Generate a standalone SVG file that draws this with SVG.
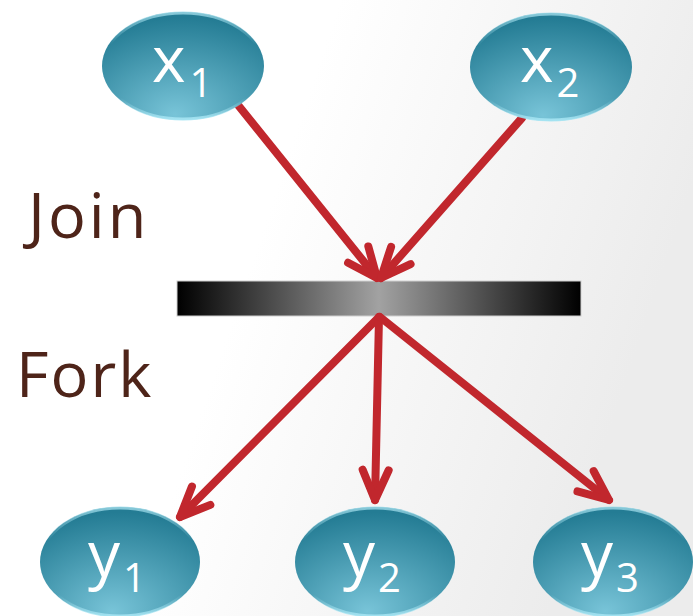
<svg xmlns="http://www.w3.org/2000/svg" width="693" height="616" viewBox="0 0 693 616">
<defs>
<linearGradient id="bg" x1="0" y1="0" x2="1" y2="0.3">
<stop offset="0.45" stop-color="#ffffff"/>
<stop offset="1" stop-color="#ececec"/>
</linearGradient>
<linearGradient id="bar" x1="0" y1="0" x2="1" y2="0">
<stop offset="0" stop-color="#000"/>
<stop offset="0.5" stop-color="#a2a2a2"/>
<stop offset="1" stop-color="#000"/>
</linearGradient>
<radialGradient id="node" cx="0.5" cy="0.85" r="0.8" fx="0.45" fy="0.95">
<stop offset="0" stop-color="#78c4d8"/>
<stop offset="1" stop-color="#247c94"/>
</radialGradient>
<linearGradient id="rim" x1="0" y1="0" x2="0" y2="1">
<stop offset="0" stop-color="#9fdcea" stop-opacity="0.8"/>
<stop offset="0.3" stop-color="#9fdcea" stop-opacity="0"/>
<stop offset="0.8" stop-color="#9fdcea" stop-opacity="0"/>
<stop offset="1" stop-color="#a8e6f4" stop-opacity="0.9"/>
</linearGradient>
<marker id="ah" markerUnits="userSpaceOnUse" markerWidth="60" markerHeight="60" viewBox="-40 -30 60 60" refX="0" refY="0" orient="auto" overflow="visible">
<path d="M-30,-13 L0,0 L-30,13" fill="none" stroke="#c1272d" stroke-width="8" stroke-linecap="round" stroke-linejoin="round"/>
</marker>
</defs>
<style>
.n{fill:url(#node);}
.r{fill:none;stroke:url(#rim);stroke-width:3;}
.t{fill:#fff;font-family:"Open Sans","DejaVu Sans",sans-serif;font-size:64px;}
.s{font-size:40px;}
.lab{fill:#4e2419;font-family:"Open Sans","DejaVu Sans",sans-serif;font-size:63px;}
.c{fill:none;stroke:#c1272d;stroke-width:8;stroke-linecap:round;marker-end:url(#ah);}
</style>
<rect width="693" height="616" fill="url(#bg)"/>
<text class="lab" x="28" y="238" letter-spacing="3">Join</text>
<text class="lab" x="16" y="397" letter-spacing="2">Fork</text>
<g id="bar-node">
<rect x="177" y="281" width="404" height="35" fill="url(#bar)" stroke="#cfcfcf" stroke-width="1"/>
</g>
<g id="connectors">
<path class="c" d="M238,105 L377,278"/>
<path class="c" d="M522,118 L381,278"/>
<path class="c" d="M379,317 L180,517"/>
<path class="c" d="M379,317 L375,500"/>
<path class="c" d="M380,317 L609,500"/>
</g>
<g id="x1">
<ellipse class="n" cx="183" cy="66" rx="81" ry="54"/>
<ellipse class="r" cx="183" cy="66" rx="80" ry="53"/>
<text class="t" x="152" y="82">x<tspan class="s" dx="4" dy="15">1</tspan></text>
</g>
<g id="x2">
<ellipse class="n" cx="551" cy="67" rx="81" ry="54"/>
<ellipse class="r" cx="551" cy="67" rx="80" ry="53"/>
<text class="t" x="520" y="82">x<tspan class="s" dx="3" dy="15">2</tspan></text>
</g>
<g id="y1">
<ellipse class="n" cx="120" cy="562" rx="80" ry="55"/>
<ellipse class="r" cx="120" cy="562" rx="79" ry="54"/>
<text class="t" x="88" y="577">y<tspan class="s" dx="3" dy="15">1</tspan></text>
</g>
<g id="y2">
<ellipse class="n" cx="375" cy="562" rx="80" ry="55"/>
<ellipse class="r" cx="375" cy="562" rx="79" ry="54"/>
<text class="t" x="343" y="577">y<tspan class="s" dx="3" dy="15">2</tspan></text>
</g>
<g id="y3">
<ellipse class="n" cx="613" cy="562" rx="80" ry="55"/>
<ellipse class="r" cx="613" cy="562" rx="79" ry="54"/>
<text class="t" x="581" y="577">y<tspan class="s" dx="3" dy="15">3</tspan></text>
</g>
</svg>
